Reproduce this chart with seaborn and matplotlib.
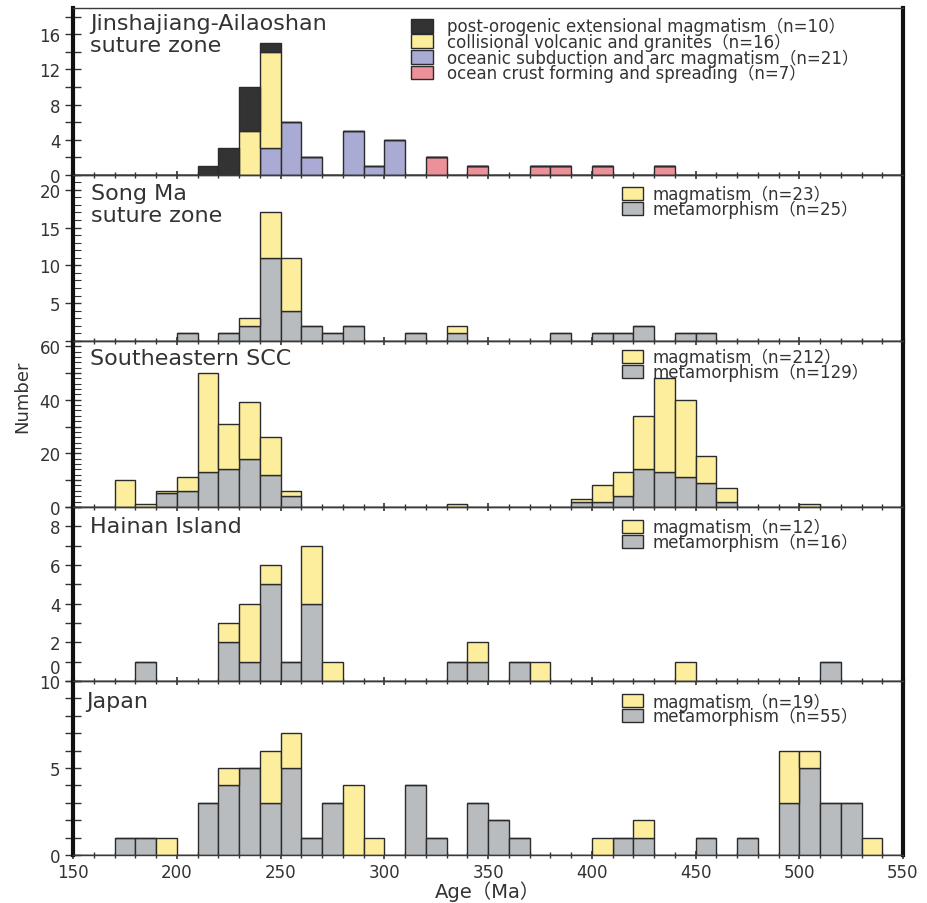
import numpy as np
import pandas as pd
import seaborn as sns
import matplotlib.pyplot as plt
from matplotlib.patches import Patch
from matplotlib.transforms import ScaledTranslation

#---------------------------------data: left edge of 10 Ma age bin and count
ja_post_age = [210, 220, 230, 240]
ja_post_n = [1, 3, 5, 1]
ja_coll_age = [230, 240]
ja_coll_n = [5, 11]
ja_ocean_age = [240, 250, 260, 280, 290, 300]
ja_ocean_n = [3, 6, 2, 5, 1, 4]
ja_crust_age = [320, 340, 370, 380, 400, 430]
ja_crust_n = [2, 1, 1, 1, 1, 1]

sm_mag_age = [230, 240, 250, 330]
sm_mag_n = [1, 6, 7, 1]
sm_met_age = [200, 220, 230, 240, 250, 260, 270, 280, 310, 330, 380, 400, 410, 420, 440, 450]
sm_met_n = [1, 1, 2, 11, 4, 2, 1, 2, 1, 1, 1, 1, 1, 2, 1, 1]

scc_mag_age = [170, 180, 190, 200, 210, 220, 230, 240, 250, 330, 390, 400, 410, 420, 430, 440, 450, 460, 500]
scc_mag_n = [10, 1, 1, 5, 37, 17, 21, 14, 2, 1, 1, 6, 9, 20, 35, 29, 10, 5, 1]
scc_met_age = [190, 200, 210, 220, 230, 240, 250, 390, 400, 410, 420, 430, 440, 450, 460]
scc_met_n = [5, 6, 13, 14, 18, 12, 4, 2, 2, 4, 14, 13, 11, 9, 2]

hn_mag_age = [220, 230, 240, 260, 270, 340, 370, 440]
hn_mag_n = [1, 3, 1, 3, 1, 1, 1, 1]
hn_met_age = [180, 220, 230, 240, 250, 260, 330, 340, 360, 510]
hn_met_n = [1, 2, 1, 5, 1, 4, 1, 1, 1, 1]

jp_mag_age = [190, 220, 240, 250, 280, 290, 400, 420, 490, 500, 530]
jp_mag_n = [1, 1, 3, 2, 4, 1, 1, 1, 3, 1, 1]
jp_met_age = [170, 180, 210, 220, 230, 240, 250, 260, 270, 310, 320, 340, 350, 360, 410, 420, 450, 470, 490, 500, 510, 520]
jp_met_n = [1, 1, 3, 4, 5, 3, 5, 1, 3, 4, 1, 3, 2, 1, 1, 1, 1, 1, 3, 5, 3, 3]

ja_labels = ["post-orogenic extensional magmatism（n=10）",
             "collisional volcanic and granites（n=16）",
             "oceanic subduction and arc magmatism（n=21）",
             "ocean crust forming and spreading（n=7）"]
sm_labels = ["magmatism（n=23）", "metamorphism（n=25）"]
scc_labels = ["magmatism（n=212）", "metamorphism（n=129）"]
hn_labels = ["magmatism（n=12）", "metamorphism（n=16）"]
jp_labels = ["magmatism（n=19）", "metamorphism（n=55）"]

titles = ["Jinshajiang-Ailaoshan\nsuture zone", "Song Ma\nsuture zone",
          "Southeastern SCC", "Hainan Island", "Japan"]

c_black = "#333333"
c_yellow = "#fcee9c"
c_blue = "#a9abd4"
c_red = "#ec909a"
c_gray = "#b9bcbe"
edge = "#2b2b2b"
txt = "#333333"

#---------------------------------style
sns.set_theme(style="ticks")
plt.rcParams["font.family"] = ["DejaVu Sans", "Noto Sans CJK SC"]
plt.rcParams["text.color"] = txt
plt.rcParams["xtick.color"] = txt
plt.rcParams["ytick.color"] = txt


def make_df(groups):
    rows = []
    for name, ages, counts in groups:
        for a, c in zip(ages, counts):
            rows.append({"age": a + 5, "n": c, "kind": name})
    return pd.DataFrame(rows)


# groups top->bottom, colors, ylim, ticks, labelled ticks, minor step,
# title pos, legend pos, handle length, text pad, label spacing, handle height
panels = [
    ([(ja_labels[0], ja_post_age, ja_post_n), (ja_labels[1], ja_coll_age, ja_coll_n),
      (ja_labels[2], ja_ocean_age, ja_ocean_n), (ja_labels[3], ja_crust_age, ja_crust_n)],
     [c_black, c_yellow, c_blue, c_red], 19, np.arange(0, 19, 2), [0, 4, 8, 12, 16], None,
     (0.0205, 0.972), (0.407, 0.945), 1.32, 0.86, -0.16, 0.91),
    ([(sm_labels[0], sm_mag_age, sm_mag_n), (sm_labels[1], sm_met_age, sm_met_n)],
     [c_yellow, c_gray], 22, [0, 5, 10, 15, 20], [5, 10, 15, 20], 1,
     (0.0213, 0.952), (0.661, 0.94), 1.26, 0.6, -0.2, 0.85),
    ([(scc_labels[0], scc_mag_age, scc_mag_n), (scc_labels[1], scc_met_age, scc_met_n)],
     [c_yellow, c_gray], 62, np.arange(0, 61, 10), [0, 20, 40, 60], 2,
     (0.0205, 0.958), (0.661, 0.957), 1.26, 0.6, -0.2, 0.85),
    ([(hn_labels[0], hn_mag_age, hn_mag_n), (hn_labels[1], hn_met_age, hn_met_n)],
     [c_yellow, c_gray], 9, np.arange(0, 10, 1), [0, 2, 4, 6, 8], None,
     (0.0205, 0.946), (0.661, 0.935), 1.26, 0.6, -0.2, 0.85),
    ([(jp_labels[0], jp_mag_age, jp_mag_n), (jp_labels[1], jp_met_age, jp_met_n)],
     [c_yellow, c_gray], 10, np.arange(0, 11, 1), [0, 5, 10], None,
     (0.0157, 0.94), (0.661, 0.935), 1.26, 0.6, -0.2, 0.85),
]

fig = plt.figure(figsize=(9.27, 9.04), dpi=100)
gs = fig.add_gridspec(5, 1, left=73/927, right=903/927, top=1-9/904, bottom=1-856/904,
                      hspace=0, height_ratios=[166.7, 166, 166, 174, 174])
bins = list(range(150, 551, 10))

for i, (groups, colors, ytop, yt, ylab, ymin, tpos, lpos, hlen, hpad, lsp, hh) in enumerate(panels):
    ax = fig.add_subplot(gs[i])
    ax.set_facecolor("none")
    df = make_df(groups)
    order = [g[0] for g in groups]
    sns.histplot(data=df, x="age", weights="n", hue="kind", hue_order=order,
                 palette=dict(zip(order, colors)), multiple="stack", bins=bins,
                 alpha=1, edgecolor=edge, linewidth=1, legend=False, ax=ax)
    ax.set_xlim(150, 550)
    ax.set_ylim(0, ytop)
    ax.set_xlabel("")
    ax.set_ylabel("")

    ax.set_yticks(yt, labels=[str(v) if v in ylab else "" for v in yt])
    if ymin:
        ax.set_yticks(np.arange(0, ytop, ymin), minor=True)
    ax.tick_params(axis="y", which="major", direction="inout", length=12, width=1,
                   labelsize=12, pad=3)
    ax.tick_params(axis="y", which="minor", direction="in", length=6, width=0.8)

    ax.set_xticks(np.arange(150, 551, 50))
    ax.set_xticks(np.arange(150, 551, 10), minor=True)
    ax.tick_params(axis="x", which="major", direction="inout", length=6, width=1.2,
                   labelsize=12, pad=3)
    ax.tick_params(axis="x", which="minor", direction="inout", length=4, width=1)
    if i < 4:
        ax.tick_params(axis="x", labelbottom=False)

    for s in ["left", "right"]:
        ax.spines[s].set_linewidth(3)
        ax.spines[s].set_color("#111111")
    for s in ["top", "bottom"]:
        ax.spines[s].set_linewidth(1)
        ax.spines[s].set_color("#3a3a3a")

    ax.text(tpos[0], tpos[1], titles[i], transform=ax.transAxes, ha="left", va="top",
            fontsize=16, linespacing=1.12, color=txt)

    handles = [Patch(facecolor=c, edgecolor=edge, linewidth=1, label=l)
               for c, l in zip(colors, order)]
    ax.legend(handles=handles, loc="upper left", bbox_to_anchor=lpos, frameon=False,
              borderpad=0, borderaxespad=0, labelspacing=lsp, handlelength=hlen,
              handleheight=hh, handletextpad=hpad, fontsize=12, labelcolor=txt)

    if i == 3:
        # the zero label of this panel sits raised above the Japan "10"
        lab0 = ax.get_yticklabels()[0]
        lab0.set_transform(lab0.get_transform() + ScaledTranslation(0, 11/72, fig.dpi_scale_trans))
    if i == 4:
        ax.set_xlabel("Age（Ma）", fontsize=14, color=txt)
        ax.xaxis.set_label_coords(0.5, -0.203)
        ax.xaxis.label.set_verticalalignment("center")

fig.text(22/927, 1-397/904, "Number", rotation=90, ha="center", va="center",
         fontsize=13, color=txt)

fig.savefig("out.png", dpi=100)
